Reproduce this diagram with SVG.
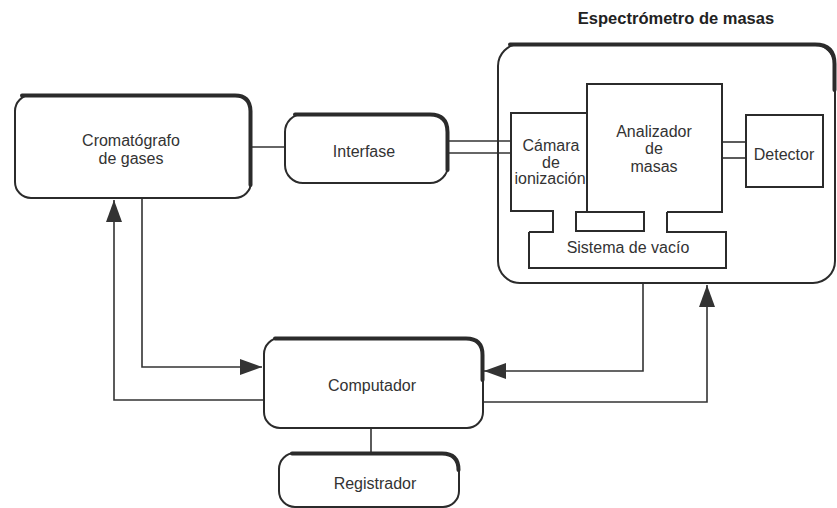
<svg xmlns="http://www.w3.org/2000/svg" width="837" height="508" viewBox="0 0 837 508">
<defs>
<style>
.box{fill:none;stroke:#2b2b2b;stroke-width:2}
.shadow{fill:none;stroke:#2b2b2b;stroke-width:4;stroke-linecap:round}
.ln{fill:none;stroke:#333;stroke-width:1.6}
.t{font-family:"Liberation Sans",Arial,sans-serif;font-size:16px;fill:#333;text-anchor:middle}
.title{font-family:"Liberation Sans",Arial,sans-serif;font-size:16.5px;font-weight:bold;fill:#222;text-anchor:middle}
</style>
<marker id="arr" markerUnits="userSpaceOnUse" markerWidth="22" markerHeight="16" refX="22" refY="8" orient="auto">
<path d="M0,0 L22,8 L0,16 z" fill="#333"/>
</marker>
</defs>
<rect width="837" height="508" fill="#fff"/>

<g id="connectors">
<line class="ln" x1="251" y1="147" x2="285" y2="147"/>
<line class="ln" x1="448" y1="141" x2="511" y2="141"/>
<line class="ln" x1="448" y1="153" x2="511" y2="153"/>
<line class="ln" x1="722" y1="142" x2="746" y2="142"/>
<line class="ln" x1="722" y1="158" x2="746" y2="158"/>
<polyline class="ln" points="142,198 142,367 262,367" marker-end="url(#arr)"/>
<polyline class="ln" points="264,400 114,400 114,200" marker-end="url(#arr)"/>
<polyline class="ln" points="643,283 643,371 484,371" marker-end="url(#arr)"/>
<polyline class="ln" points="483,402 707,402 707,285" marker-end="url(#arr)"/>
<line class="ln" x1="371" y1="428" x2="371" y2="453"/>
</g>

<g id="cromatografo">
<rect class="box" x="15" y="95" width="236" height="103" rx="16"/>
<path class="shadow" d="M22,95.5 H235 Q250,95.5 250.5,111 V185"/>
<text class="t" x="131" y="146">Cromatógrafo</text>
<text class="t" x="131" y="164">de gases</text>
</g>

<g id="interfase">
<rect class="box" x="285" y="114" width="163" height="69" rx="18"/>
<path class="shadow" d="M295,114.5 H430 Q447.5,114.5 447.5,132 V170"/>
<text class="t" x="364" y="157">Interfase</text>
</g>

<g id="espectrometro">
<text class="title" x="676" y="24">Espectrómetro de masas</text>
<rect class="box" x="498" y="44" width="337" height="239" rx="22"/>
<path class="shadow" d="M510,44.5 H815 Q834.5,44.5 834.5,64 V90"/>
</g>

<g id="camara">
<path class="box" d="M587,113 H511 V211 H553 V232 H529"/>
<text class="t" x="551" y="151">Cámara</text>
<text class="t" x="551" y="168">de</text>
<text class="t" x="550" y="184">ionización</text>
</g>

<g id="analizador">
<path class="box" d="M587,212 V84 H722 V212 H667"/>
<rect class="box" x="576" y="212" width="68" height="19"/>
<text class="t" x="654" y="137">Analizador</text>
<text class="t" x="654" y="154">de</text>
<text class="t" x="654" y="172">masas</text>
</g>

<g id="detector">
<rect class="box" x="746" y="115" width="77" height="72"/>
<text class="t" x="784" y="160">Detector</text>
</g>

<g id="sistema">
<path class="box" d="M529,232 V268 H726 V232 H667 V212"/>
<text class="t" x="628" y="253">Sistema de vacío</text>
</g>

<g id="computador">
<rect class="box" x="264" y="338" width="219" height="90" rx="16"/>
<path class="shadow" d="M275,338.5 H466 Q482.5,338.5 482.5,355 V380"/>
<text class="t" x="372" y="391">Computador</text>
</g>

<g id="registrador">
<rect class="box" x="279" y="453" width="180" height="54" rx="16"/>
<path class="shadow" d="M292,453.5 H442 Q458.5,453.5 458.5,470"/>
<text class="t" x="375" y="489">Registrador</text>
</g>
</svg>
